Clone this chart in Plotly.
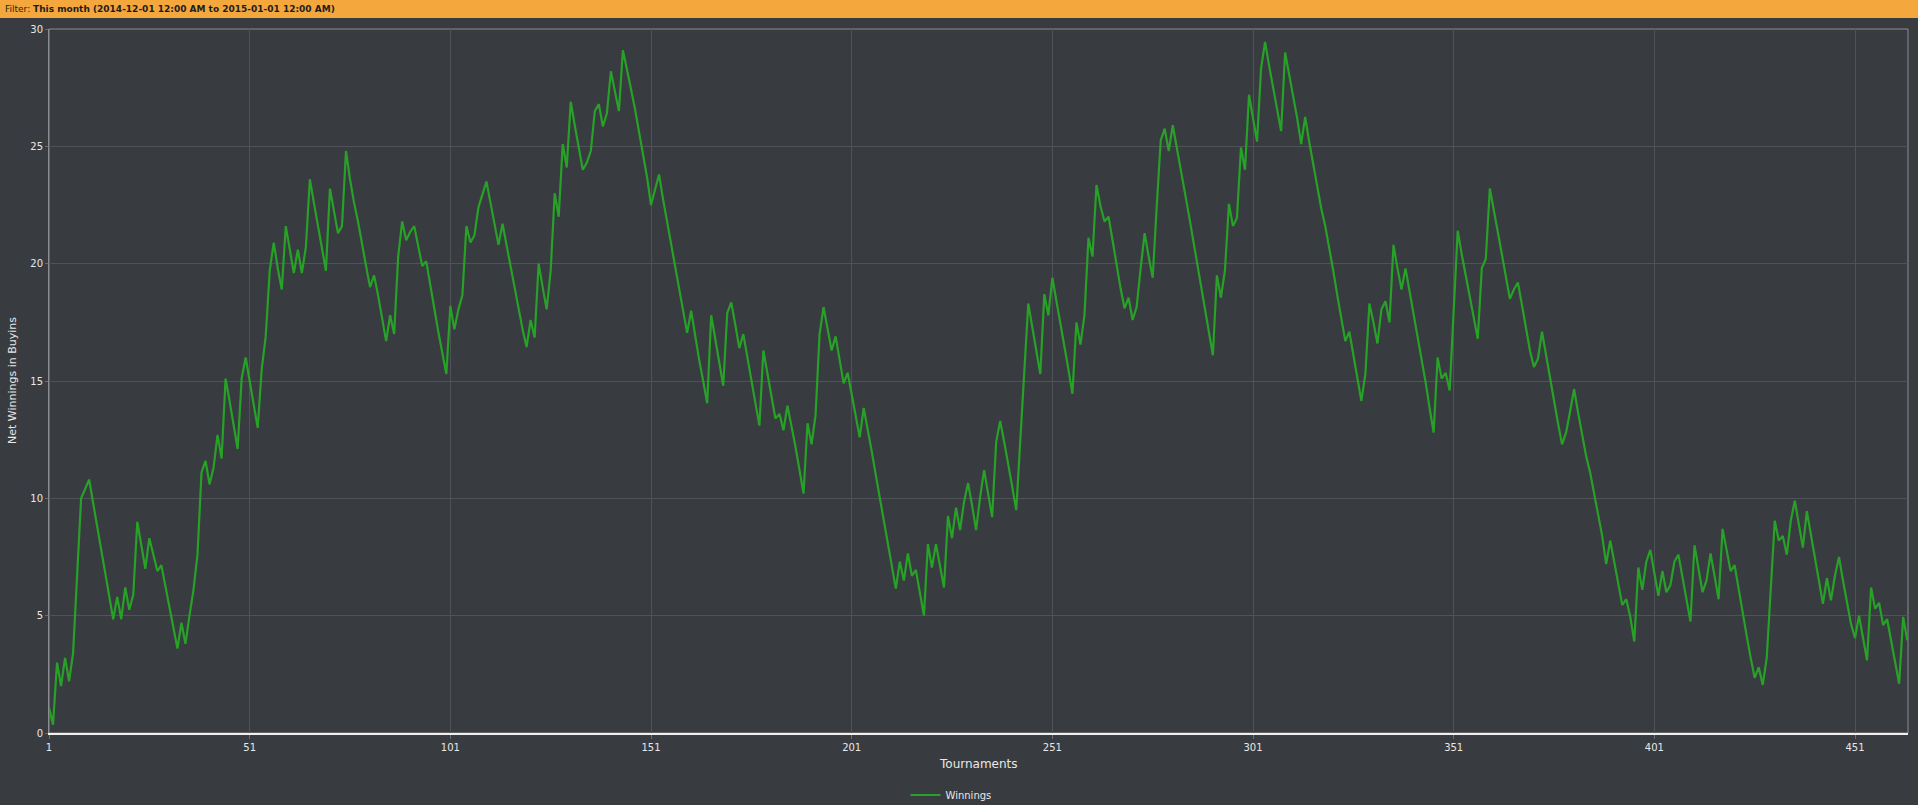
import plotly.graph_objects as go

# Net winnings (in buy-ins) after each tournament
winnings = [
    1.1, 0.35, 3.0, 2.0, 3.2, 2.2, 3.4, 6.7, 10.0, 10.4,
    10.8, 9.8, 8.8, 7.85, 6.85, 5.85, 4.85, 5.8, 4.85, 6.2,
    5.25, 5.9, 9.0, 8.0, 7.0, 8.3, 7.6, 6.9, 7.15, 6.3,
    5.4, 4.5, 3.6, 4.7, 3.8, 5.0, 6.1, 7.6, 11.1, 11.6,
    10.6, 11.3, 12.7, 11.7, 15.1, 14.15, 13.2, 12.1, 15.1, 16.0,
    15.0, 14.05, 13.0, 15.5, 16.9, 19.7, 20.9, 19.8, 18.9, 21.6,
    20.6, 19.6, 20.6, 19.6, 20.7, 23.6, 22.6, 21.6, 20.6, 19.7,
    23.2, 22.2, 21.3, 21.6, 24.8, 23.6, 22.6, 21.8, 20.8, 19.9,
    19.0, 19.5, 18.65, 17.7, 16.7, 17.8, 17.0, 20.3, 21.8, 21.0,
    21.35, 21.6, 20.8, 19.9, 20.1, 19.0, 18.1, 17.1, 16.2, 15.3,
    18.2, 17.2, 18.05, 18.65, 21.6, 20.9, 21.2, 22.4, 22.95, 23.5,
    22.6, 21.7, 20.8, 21.7, 20.8, 19.8, 18.85, 17.95, 17.2, 16.45,
    17.6, 16.85, 20.0, 19.0, 18.05, 19.7, 23.0, 22.0, 25.1, 24.1,
    26.9, 25.9, 24.9, 24.0, 24.3, 24.8, 26.5, 26.8, 25.85, 26.4,
    28.2, 27.3, 26.5, 29.1, 28.2, 27.45, 26.6, 25.6, 24.7, 23.7,
    22.5, 23.15, 23.8, 22.75, 21.8, 20.8, 19.9, 18.95, 18.05, 17.05,
    18.0, 16.9, 15.9, 15.0, 14.05, 17.8, 16.8, 15.8, 14.8, 17.9,
    18.35, 17.4, 16.4, 17.0, 16.0, 15.0, 14.05, 13.1, 16.3, 15.3,
    14.3, 13.4, 13.6, 12.9, 13.95, 13.1, 12.2, 11.2, 10.2, 13.2,
    12.3, 13.55, 17.0, 18.15, 17.2, 16.3, 16.9, 15.9, 14.9, 15.35,
    14.45, 13.55, 12.6, 13.85, 13.0, 12.0, 11.0, 10.0, 9.05, 8.1,
    7.1, 6.15, 7.3, 6.5, 7.65, 6.7, 6.95, 6.0, 5.0, 8.05,
    7.05, 8.05, 7.15, 6.2, 9.25, 8.3, 9.6, 8.65, 9.85, 10.65,
    9.7, 8.65, 10.05, 11.2, 10.2, 9.2, 12.4, 13.3, 12.4, 11.5,
    10.5, 9.5, 12.4, 15.3, 18.3, 17.3, 16.3, 15.3, 18.7, 17.8,
    19.4, 18.45, 17.5, 16.45, 15.5, 14.45, 17.5, 16.55, 17.8, 21.1,
    20.3, 23.35, 22.45, 21.8, 22.0, 21.0, 19.9, 18.95, 18.1, 18.55,
    17.6, 18.15, 19.8, 21.3, 20.3, 19.4, 22.4, 25.25, 25.75, 24.8,
    25.9, 25.0, 24.0, 23.05, 22.1, 21.1, 20.1, 19.1, 18.05, 17.1,
    16.1, 19.5, 18.55, 19.7, 22.55, 21.6, 21.95, 24.95, 24.0, 27.2,
    26.25, 25.2, 28.3, 29.45, 28.45, 27.55, 26.6, 25.65, 29.0, 28.1,
    27.15, 26.2, 25.1, 26.25, 25.2, 24.2, 23.25, 22.35, 21.6, 20.7,
    19.7, 18.65, 17.65, 16.7, 17.1, 16.1, 15.1, 14.15, 15.3, 18.3,
    17.5, 16.6, 18.05, 18.4, 17.5, 20.8, 19.8, 18.9, 19.8, 18.85,
    17.9, 16.9, 15.9, 14.95, 13.85, 12.8, 16.0, 15.1, 15.35, 14.6,
    18.0, 21.4, 20.4, 19.5, 18.65, 17.7, 16.8, 19.8, 20.2, 23.2,
    22.2, 21.35, 20.4, 19.4, 18.5, 18.9, 19.2, 18.25, 17.3, 16.3,
    15.6, 15.95, 17.1, 16.1, 15.1, 14.15, 13.2, 12.3, 12.8, 13.7,
    14.65, 13.65, 12.7, 11.8, 11.1, 10.15, 9.25, 8.4, 7.2, 8.2,
    7.3, 6.4, 5.45, 5.7, 4.95, 3.9, 7.05, 6.1, 7.3, 7.8,
    6.8, 5.85, 6.9, 6.0, 6.3, 7.3, 7.6, 6.7, 5.75, 4.75,
    8.0, 7.0, 6.0, 6.5, 7.65, 6.7, 5.7, 8.7, 7.8, 6.9,
    7.15, 6.1, 5.15, 4.15, 3.2, 2.35, 2.8, 2.05, 3.2, 6.1,
    9.05, 8.2, 8.4, 7.6, 9.05, 9.9, 8.85, 7.9, 9.45, 8.5,
    7.5, 6.5, 5.5, 6.6, 5.65, 6.7, 7.5, 6.5, 5.6, 4.65,
    4.05, 5.0, 4.05, 3.1, 6.2, 5.3, 5.55, 4.6, 4.85, 3.95,
    3.05, 2.1, 4.95, 3.95,
]
tournaments = list(range(1, len(winnings) + 1))

x_ticks = [1, 51, 101, 151, 201, 251, 301, 351, 401, 451]
y_ticks = [0, 5, 10, 15, 20, 25, 30]

filter_text = "Filter: <b>This month (2014-12-01 12:00 AM to 2015-01-01 12:00 AM)</b>"

BG = "#383b3f"
GRID = "#4f5256"
FONT = "DejaVu Sans"

W, H = 1918, 805
ML, MR, MT, MB = 49, 10, 29, 72
PW = W - ML - MR
PH = H - MT - MB

fig = go.Figure()
fig.add_trace(
    go.Scatter(
        x=tournaments,
        y=winnings,
        mode="lines",
        name="Winnings",
        line=dict(color="#27a127", width=2.2),
    )
)

# orange filter bar on top
fig.add_shape(
    type="rect", xref="paper", yref="paper",
    x0=-ML / PW, x1=1 + MR / PW, y0=1 + 11 / PH, y1=1 + MT / PH,
    fillcolor="#f4a73d", line=dict(width=0), layer="above",
)
fig.add_annotation(
    text=filter_text, xref="paper", yref="paper",
    x=(3 - ML) / PW, y=1 + 20 / PH, xanchor="left", yanchor="middle",
    showarrow=False, font=dict(family=FONT, size=9, color="#1e1e1e"),
)

# frame round the plot area
fig.add_shape(
    type="rect", xref="paper", yref="paper", x0=0, x1=1, y0=0, y1=1,
    line=dict(color="#8a8d91", width=1), layer="below",
)

fig.add_annotation(
    text="Tournaments", xref="paper", yref="paper",
    x=0.5, y=-31 / PH, xanchor="center", yanchor="middle",
    showarrow=False, font=dict(family=FONT, size=12, color="#e8e8e8"),
)
fig.add_annotation(
    text="Net Winnings in Buyins", xref="paper", yref="paper",
    x=(12 - ML) / PW, y=0.5, xanchor="center", yanchor="middle",
    textangle=-90, showarrow=False,
    font=dict(family=FONT, size=11, color="#e8e8e8"),
)

fig.update_layout(
    width=W,
    height=H,
    margin=dict(l=ML, r=MR, t=MT, b=MB, autoexpand=False),
    paper_bgcolor=BG,
    plot_bgcolor=BG,
    font=dict(family=FONT, size=10, color="#e8e8e8"),
    showlegend=True,
    legend=dict(
        orientation="h",
        x=(951 - ML) / PW, xanchor="center",
        y=-62 / PH, yanchor="middle",
        font=dict(family=FONT, size=10, color="#e8e8e8"),
        bgcolor="rgba(0,0,0,0)",
    ),
    xaxis=dict(
        range=[1, 464.2],
        tickmode="array",
        tickvals=x_ticks,
        showgrid=True,
        gridcolor=GRID,
        gridwidth=1,
        zeroline=False,
        showline=True,
        linecolor="#f0f0f0",
        linewidth=2,
        ticks="outside",
        ticklen=4,
        tickcolor="#6a6d71",
        tickfont=dict(family=FONT, size=10, color="#e8e8e8"),
    ),
    yaxis=dict(
        range=[0, 30],
        tickmode="array",
        tickvals=y_ticks,
        showgrid=True,
        gridcolor=GRID,
        gridwidth=1,
        zeroline=False,
        showline=True,
        linecolor="#8a8d91",
        linewidth=1,
        ticks="outside",
        ticklen=3,
        tickcolor="#6a6d71",
        tickfont=dict(family=FONT, size=10, color="#e8e8e8"),
    ),
)

# the page keeps no default body margin, so the chart fills the window
fig.write_html(
    "out.html",
    config={"displayModeBar": False},
    post_script="document.body.style.margin='0';document.body.style.overflow='hidden';",
)
